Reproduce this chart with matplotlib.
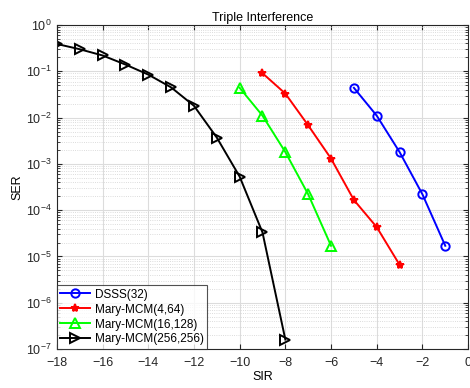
import numpy as np
import matplotlib.pyplot as plt
from matplotlib.ticker import LogLocator, NullFormatter

plt.rcParams['font.family'] = ['Liberation Sans', 'DejaVu Sans']
plt.rcParams['mathtext.fontset'] = 'custom'
plt.rcParams['mathtext.rm'] = 'Liberation Sans'

# 数据
sir_dsss = [-5, -4, -3, -2, -1]
ser_dsss = [0.044, 0.011, 0.0018, 2.2e-4, 1.7e-5]

sir_m4 = [-9, -8, -7, -6, -5, -4, -3]
ser_m4 = [0.091, 0.033, 0.0068, 0.0013, 1.66e-4, 4.3e-5, 6.6e-6]

sir_m16 = [-10, -9, -8, -7, -6]
ser_m16 = [0.044, 0.011, 0.0018, 2.2e-4, 1.7e-5]

sir_m256 = [-18, -17, -16, -15, -14, -13, -12, -11, -10, -9, -8]
ser_m256 = [0.39, 0.30, 0.22, 0.14, 0.085, 0.045, 0.018, 0.0037, 5.3e-4, 3.3e-5, 1.6e-7]

labels = ['DSSS(32)', 'Mary-MCM(4,64)', 'Mary-MCM(16,128)', 'Mary-MCM(256,256)']

fig = plt.figure(figsize=(4.7, 3.88), dpi=100)
ax = fig.add_axes([0.121, 0.1005, 0.875, 0.835])

ax.semilogy(sir_dsss, ser_dsss, 'b-o', lw=1.4, ms=6, mfc='none', mew=1.4, label=labels[0])
ax.semilogy(sir_m4, ser_m4, 'r-*', lw=1.4, ms=6, mew=1.4, label=labels[1])
ax.semilogy(sir_m16, ser_m16, '-^', color=(0, 1, 0), lw=1.4, ms=6.5, mfc='none', mew=1.4, label=labels[2])
ax.semilogy(sir_m256, ser_m256, 'k->', lw=1.4, ms=6.5, mfc='none', mew=1.4, label=labels[3])

ax.set_xlim(-18, 0)
ax.set_ylim(1e-7, 1)
ax.set_xticks(np.arange(-18, 1, 2))
ax.yaxis.set_major_locator(LogLocator(base=10, numticks=10))
ax.yaxis.set_minor_locator(LogLocator(base=10, subs=np.arange(2, 10), numticks=100))
ax.yaxis.set_minor_formatter(NullFormatter())

ax.grid(True, which='major', color='#dcdcdc', lw=0.8)
ax.grid(True, which='minor', axis='y', color='#d0d0d0', ls=':', lw=0.6)
ax.set_axisbelow(True)
ax.tick_params(direction='in', which='both', top=True, right=True, labelsize=9, colors='#262626')
ax.tick_params(axis='x', pad=6)
for s in ax.spines.values():
    s.set_color('#262626')
    s.set_linewidth(0.8)

ax.set_title('Triple Interference', fontsize=9, pad=3)
ax.set_xlabel('SIR', fontsize=9, labelpad=1)
ax.set_ylabel('SER', fontsize=9, labelpad=2)

leg = ax.legend(loc='lower left', fontsize=8.5, borderaxespad=0, fancybox=False,
                edgecolor='#262626', handlelength=2.5, borderpad=0.3, labelspacing=0.25,
                handletextpad=0.4)
leg.get_frame().set_linewidth(0.8)

plt.savefig('out.png', dpi=100)
